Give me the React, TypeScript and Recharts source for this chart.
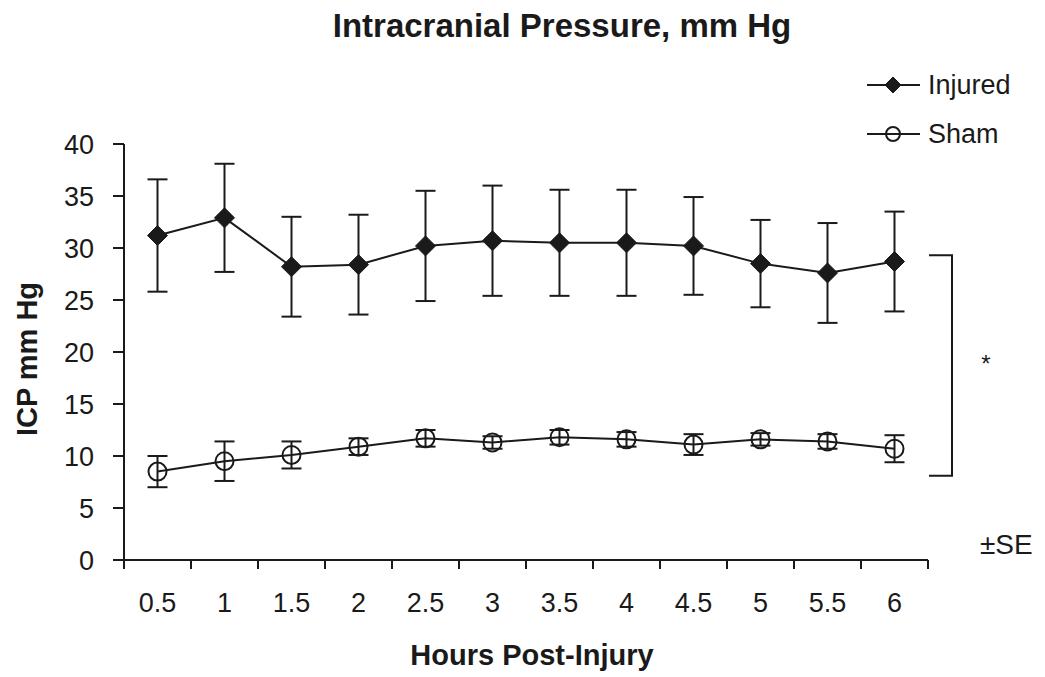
import React from 'react';
import { LineChart, Line, XAxis, YAxis, ErrorBar } from 'recharts';

// Intracranial pressure after injury vs. sham, mean ± SE

const HOURS = ['0.5', '1', '1.5', '2', '2.5', '3', '3.5', '4', '4.5', '5', '5.5', '6'];
const INJURED = [31.2, 32.9, 28.2, 28.4, 30.2, 30.7, 30.5, 30.5, 30.2, 28.5, 27.6, 28.7];
const INJURED_SE = [5.4, 5.2, 4.8, 4.8, 5.3, 5.3, 5.1, 5.1, 4.7, 4.2, 4.8, 4.8];
const SHAM = [8.5, 9.5, 10.1, 10.9, 11.7, 11.3, 11.8, 11.6, 11.1, 11.6, 11.4, 10.7];
const SHAM_SE = [1.5, 1.9, 1.3, 0.8, 0.8, 0.6, 0.7, 0.7, 1.0, 0.6, 0.7, 1.3];
const Y_TICKS = [0, 5, 10, 15, 20, 25, 30, 35, 40];

// bracket marking the significant difference (values on the y scale)
const BRACKET = { top: 29.3, bottom: 8.1 };

const W = 1045;
const H = 677;
const PLOT = { left: 124, right: 928, top: 144, bottom: 560 };
const Y_MAX = 40;
const BAND = (PLOT.right - PLOT.left) / HOURS.length;
const INK = '#1a1a1a';
const FONT = '"Liberation Sans", Arial, sans-serif';
const TICK_FS = 27;

const yPix = (v: number) => PLOT.top + ((Y_MAX - v) / Y_MAX) * (PLOT.bottom - PLOT.top);

const data = HOURS.map((h, i) => ({
  hour: h,
  injured: INJURED[i],
  injuredSe: INJURED_SE[i],
  sham: SHAM[i],
  shamSe: SHAM_SE[i],
}));

const Diamond = ({ cx, cy, half = 10 }: any) => {
  if (cx == null || cy == null) return null;
  return (
    <polygon
      points={`${cx},${cy - half} ${cx + half},${cy} ${cx},${cy + half} ${cx - half},${cy}`}
      fill={INK}
      stroke={INK}
      strokeWidth={1}
    />
  );
};

const OpenCircle = ({ cx, cy, rad = 9 }: any) => {
  if (cx == null || cy == null) return null;
  return <circle cx={cx} cy={cy} r={rad} fill="none" stroke={INK} strokeWidth={2} />;
};

// category ticks sit between the bands, labels in the middle
const HourTick = ({ x, payload, index }: any) => {
  const left = x - BAND / 2;
  const last = index === HOURS.length - 1;
  return (
    <g>
      <line x1={left} y1={PLOT.bottom} x2={left} y2={PLOT.bottom + 9} stroke={INK} strokeWidth={2} />
      {last && (
        <line x1={x + BAND / 2} y1={PLOT.bottom} x2={x + BAND / 2} y2={PLOT.bottom + 9} stroke={INK} strokeWidth={2} />
      )}
      <text x={x} y={PLOT.bottom + 52} textAnchor="middle" fontSize={TICK_FS} fill={INK} fontFamily={FONT}>
        {payload.value}
      </text>
    </g>
  );
};

export default function App() {
  return (
    <div style={{ position: 'absolute', left: 0, top: 0, width: W, height: H, background: '#fff', fontFamily: FONT }}>
      <LineChart
        width={W}
        height={H}
        data={data}
        margin={{ top: PLOT.top, right: W - PLOT.right, bottom: H - PLOT.bottom - 60, left: PLOT.left - 70 }}
      >
        <XAxis
          dataKey="hour"
          scale="band"
          height={60}
          tickLine={false}
          axisLine={{ stroke: INK, strokeWidth: 2 }}
          tick={<HourTick />}
          interval={0}
        />
        <YAxis
          width={70}
          domain={[0, Y_MAX]}
          ticks={Y_TICKS}
          interval={0}
          tickSize={11}
          tickMargin={19}
          axisLine={{ stroke: INK, strokeWidth: 2 }}
          tickLine={{ stroke: INK, strokeWidth: 2 }}
          tick={{ fontSize: TICK_FS, fill: INK, fontFamily: FONT }}
        />
        <Line
          dataKey="injured"
          name="Injured"
          stroke={INK}
          strokeWidth={2}
          dot={<Diamond />}
          activeDot={false}
          isAnimationActive={false}
        >
          <ErrorBar dataKey="injuredSe" width={10} stroke={INK} strokeWidth={2} direction="y" />
        </Line>
        <Line
          dataKey="sham"
          name="Sham"
          stroke={INK}
          strokeWidth={2}
          dot={<OpenCircle />}
          activeDot={false}
          isAnimationActive={false}
        >
          <ErrorBar dataKey="shamSe" width={10} stroke={INK} strokeWidth={2} direction="y" />
        </Line>
      </LineChart>

      <svg
        width={W}
        height={H}
        style={{ position: 'absolute', left: 0, top: 0, pointerEvents: 'none' }}
        fontFamily={FONT}
      >
        <text x={562} y={37} textAnchor="middle" fontSize={33} fontWeight="bold" fill={INK}>
          Intracranial Pressure, mm Hg
        </text>
        <text x={532} y={665} textAnchor="middle" fontSize={29} fontWeight="bold" fill={INK}>
          Hours Post-Injury
        </text>
        <text transform="translate(37,359) rotate(-90)" textAnchor="middle" fontSize={29} fontWeight="bold" fill={INK}>
          ICP mm Hg
        </text>

        {/* legend */}
        <line x1={867} y1={85} x2={920} y2={85} stroke={INK} strokeWidth={2} />
        <Diamond cx={893} cy={85} half={8} />
        <text x={928} y={94} fontSize={27} fill={INK}>Injured</text>
        <line x1={867} y1={134} x2={920} y2={134} stroke={INK} strokeWidth={2} />
        <OpenCircle cx={893} cy={134} rad={7} />
        <text x={928} y={143} fontSize={27} fill={INK}>Sham</text>

        {/* significance bracket */}
        <polyline
          points={`929,${yPix(BRACKET.top)} 952,${yPix(BRACKET.top)} 952,${yPix(BRACKET.bottom)} 929,${yPix(BRACKET.bottom)}`}
          fill="none"
          stroke={INK}
          strokeWidth={2}
        />
        <text x={986} y={372} textAnchor="middle" fontSize={24} fill={INK}>*</text>
        <text x={980} y={554} fontSize={28} fill={INK}>±SE</text>
      </svg>
    </div>
  );
}
